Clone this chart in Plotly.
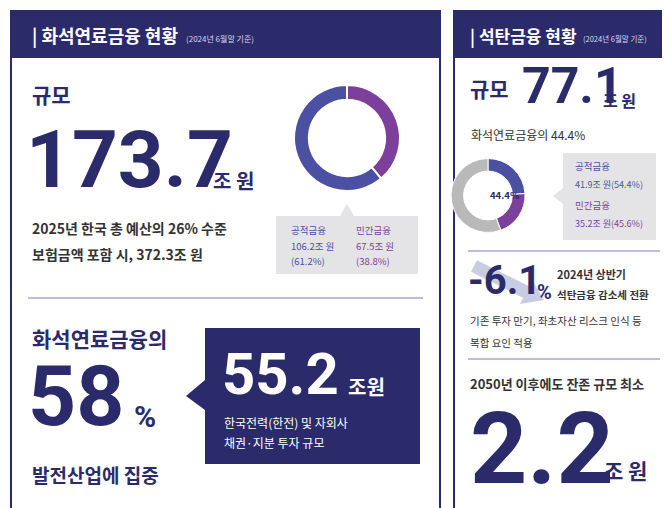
import plotly.graph_objects as go

W, H = 670, 508
NAVY = "#2b2a6b"
BLUE = "#4b50a3"
PURPLE = "#7d3f9c"
GRAY = "#b9b9b9"
FONT = "Noto Sans CJK KR"
NUM = "Roboto"

# fossil fuel finance (trillion won)
fossil_labels = ["민간금융", "공적금융"]
fossil_values = [67.5, 106.2]
# coal finance shares of fossil total (%)
coal_labels = ["공적금융", "민간금융", "기타"]
coal_values = [24.2, 20.2, 55.6]


def px(x):
    return x / W


def py(y):
    return 1 - y / H


fig = go.Figure()
fig.add_trace(go.Pie(labels=fossil_labels, values=fossil_values, hole=0.72, sort=False,
                     direction="clockwise", rotation=0, textinfo="none", hoverinfo="label+value",
                     marker=dict(colors=[PURPLE, BLUE], line=dict(color="white", width=2)),
                     domain=dict(x=[px(286), px(392)], y=[py(184), py(76)]), showlegend=False))
fig.add_trace(go.Pie(labels=coal_labels, values=coal_values, hole=0.66, sort=False,
                     direction="clockwise", rotation=0, textinfo="none", hoverinfo="label+value",
                     marker=dict(colors=[BLUE, PURPLE, GRAY], line=dict(color="white", width=1)),
                     domain=dict(x=[px(443), px(517)], y=[py(225), py(150)]), showlegend=False))

shapes = []


def rect(x0, y0, x1, y1, fill, line=None, lw=0):
    shapes.append(dict(type="rect", xref="paper", yref="paper", x0=px(x0), x1=px(x1),
                       y0=py(y1), y1=py(y0), fillcolor=fill, layer="below",
                       line=dict(color=line or fill, width=lw)))


def path(pts, fill):
    d = "M " + " L ".join(f"{px(a)},{py(b)}" for a, b in pts) + " Z"
    shapes.append(dict(type="path", xref="paper", yref="paper", path=d, fillcolor=fill,
                       line=dict(width=0), layer="below"))


def hline(x0, x1, y):
    shapes.append(dict(type="line", xref="paper", yref="paper", x0=px(x0), x1=px(x1),
                       y0=py(y), y1=py(y), line=dict(color="#a9a6cc", width=1.5)))


# panels
rect(3, 3, 432, 505, "white", NAVY, 2)
rect(3, 3, 432, 50, NAVY)
rect(446, 3, 666, 505, "white", NAVY, 2)
rect(446, 3, 666, 50, NAVY)
# callouts
rect(268, 208, 410, 266, "#e4e4e6")
path([(332, 208), (339, 196), (346, 208)], "#e4e4e6")
rect(555, 145, 648, 232, "#e4e4e6")
path([(555, 180), (545, 188), (555, 196)], "#e4e4e6")
rect(197, 320, 412, 456, NAVY)
path([(197, 372), (178, 388), (197, 402)], NAVY)
hline(20, 415, 290)
hline(460, 652, 243)
hline(460, 652, 351)
# decline arrow
shapes.append(dict(type="line", xref="paper", yref="paper", x0=px(466), y0=py(258), x1=px(522),
                   y1=py(286), line=dict(color="#c9cbe0", width=13), layer="below"))
path([(512, 296), (536, 292), (524, 272)], "#c9cbe0")

ann = []


def t(x, y, s, size, color=NAVY, anchor="left", yanchor="middle", bold=True, font=FONT):
    ann.append(dict(x=px(x), y=py(y), xref="paper", yref="paper", text=f"<b>{s}</b>" if bold else s,
                    showarrow=False, xanchor=anchor, yanchor=yanchor,
                    font=dict(family=font, size=size, color=color)))


# left panel
t(22, 27, "| 화석연료금융 현황", 18, "white")
t(176, 30, "(2024년 6월말 기준)", 8, "#d8d8ee", bold=False)
t(22, 86, "규모", 21)
t(16, 152, "173.7", 80, font=NUM)
t(203, 172, "조 원", 20)
t(22, 220, "2025년 한국 총 예산의 26% 수준", 14, "#333")
t(22, 246, "보험금액 포함 시, 372.3조 원", 14, "#333")
t(281, 222, "공적금융", 9.5, BLUE, bold=False)
t(281, 238, "106.2조 원", 9.5, BLUE, bold=False)
t(281, 253, "(61.2%)", 9.5, BLUE, bold=False)
t(346, 222, "민간금융", 9.5, PURPLE, bold=False)
t(346, 238, "67.5조 원", 9.5, PURPLE, bold=False)
t(346, 253, "(38.8%)", 9.5, PURPLE, bold=False)
t(22, 330, "화석연료금융의", 21)
t(18, 388, "58", 84, font=NUM)
t(124, 408, "%", 30, font=NUM)
t(22, 466, "발전산업에 집중", 19)
t(212, 366, "55.2", 58, "white", font=NUM)
t(338, 378, "조원", 20, "white")
t(214, 414, "한국전력(한전) 및 자회사", 12, "white", bold=False)
t(214, 434, "채권·지분 투자 규모", 12, "white", bold=False)

# right panel
t(460, 27, "| 석탄금융 현황", 17, "white")
t(573, 30, "(2024년 6월말 기준)", 7.5, "#d8d8ee", bold=False)
t(460, 80, "규모", 21)
t(512, 78, "77.1", 50, font=NUM)
t(593, 92, "조 원", 16)
t(461, 126, "화석연료금융의 44.4%", 12, "#333", bold=False)
t(480, 187, "44.4%", 9.5, NAVY)
t(565, 158, "공적금융", 9.5, BLUE, bold=False)
t(565, 176, "41.9조 원(54.4%)", 9, BLUE, bold=False)
t(565, 197, "민간금융", 9.5, PURPLE, bold=False)
t(565, 215, "35.2조 원(45.6%)", 9, PURPLE, bold=False)
t(458, 272, "-6.1", 40, font=NUM)
t(527, 284, "%", 20, font=NUM)
t(547, 266, "2024년 상반기", 11, "#333")
t(547, 286, "석탄금융 감소세 전환", 10.5, "#333")
t(460, 312, "기존 투자 만기, 좌초자산 리스크 인식 등", 10.5, "#333", bold=False)
t(460, 334, "복합 요인 적용", 10.5, "#333", bold=False)
t(460, 375, "2050년 이후에도 잔존 규모 최소", 13, "#333")
t(460, 440, "2.2", 100, font=NUM)
t(594, 462, "조 원", 21)

fig.update_layout(width=W, height=H, margin=dict(l=0, r=0, t=0, b=0), paper_bgcolor="white",
                  plot_bgcolor="white", shapes=shapes, annotations=ann)
fig.write_html("out.html")
